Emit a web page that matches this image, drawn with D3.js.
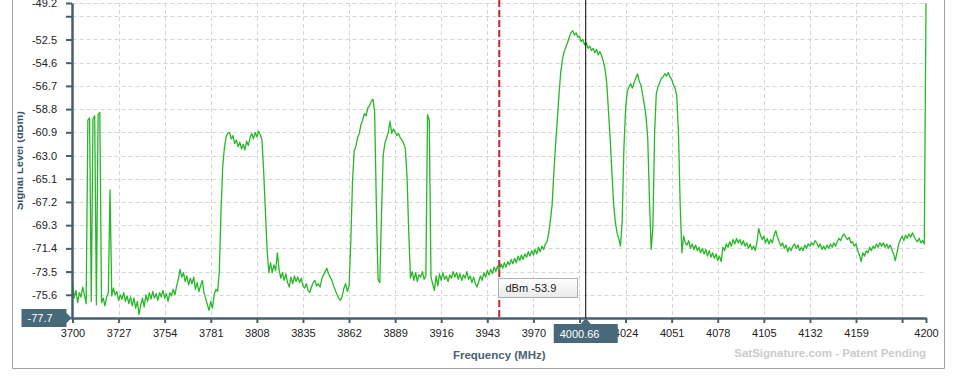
<!DOCTYPE html>
<html>
<head>
<meta charset="utf-8">
<script src="https://cdn.jsdelivr.net/npm/d3@7"></script>
<style>
    body { margin: 0; background: #fff; }
    svg text { font-family: "Liberation Sans", Arial, sans-serif; }
</style>
</head>
<body>
<div id="chart"></div>
<script>

// Spectrum trace, one sample per MHz from 3700 to 4200 (dBm)
const levels = [
    -74.4, -75.9, -75.2, -76.3, -75.4, -75.8, -74.9, -75.6, -76.4, -59.8, // 3700
    -59.6, -76.2, -59.7, -59.4, -76.5, -59.3, -59.1, -76.3, -75.9, -76.6, // 3710
    -75.8, -75.4, -66.1, -75.7, -75.0, -75.6, -75.3, -76.1, -75.6, -76.0, // 3720
    -75.4, -76.2, -75.7, -76.4, -75.8, -76.6, -75.9, -76.8, -76.2, -77.4, // 3730
    -76.5, -75.9, -76.7, -75.6, -76.2, -75.4, -76.0, -75.3, -75.9, -75.5, // 3740
    -76.1, -75.4, -75.8, -75.2, -75.9, -75.5, -76.2, -75.4, -75.7, -75.1, // 3750
    -75.6, -74.8, -74.2, -73.3, -74.0, -73.6, -74.4, -73.9, -74.7, -74.1, // 3760
    -74.6, -74.0, -75.1, -74.5, -75.3, -74.8, -74.3, -75.4, -75.9, -76.5, // 3770
    -77.0, -76.2, -76.8, -75.6, -75.1, -75.3, -73.5, -68.0, -64.0, -62.3, // 3780
    -61.3, -61.0, -60.9, -61.5, -61.2, -61.9, -61.6, -62.2, -61.8, -62.4, // 3790
    -62.0, -62.5, -61.7, -62.1, -61.4, -61.0, -61.5, -60.9, -61.3, -60.8, // 3800
    -61.1, -61.6, -64.5, -68.0, -71.5, -73.6, -72.7, -73.6, -72.9, -73.4, // 3810
    -71.8, -73.3, -74.1, -73.6, -74.3, -73.7, -74.5, -74.9, -74.0, -74.6, // 3820
    -73.9, -74.4, -74.0, -74.5, -74.1, -74.8, -75.0, -74.6, -75.2, -75.4, // 3830
    -74.9, -74.5, -74.3, -74.8, -74.6, -74.9, -74.2, -73.8, -73.5, -73.2, // 3840
    -73.7, -74.0, -74.3, -74.8, -75.2, -75.6, -75.9, -76.1, -75.7, -75.0, // 3850
    -74.6, -75.3, -74.8, -71.0, -65.5, -62.6, -62.2, -61.4, -61.0, -60.2, // 3860
    -59.8, -59.2, -59.4, -58.7, -58.5, -58.1, -57.9, -59.0, -67.5, -74.2, // 3870
    -74.5, -68.5, -63.0, -61.9, -61.4, -60.9, -59.9, -61.0, -60.6, -60.9, // 3880
    -61.2, -61.0, -61.4, -61.6, -61.9, -62.4, -65.0, -70.0, -74.1, -73.5, // 3890
    -74.3, -73.6, -74.4, -73.8, -74.0, -73.5, -74.2, -73.9, -59.3, -59.8, // 3900
    -74.0, -74.6, -75.2, -73.9, -74.8, -73.7, -74.3, -73.6, -74.2, -73.9, // 3910
    -74.4, -73.8, -74.1, -73.5, -74.0, -73.6, -74.2, -73.7, -74.3, -73.8, // 3920
    -74.1, -73.5, -74.2, -73.9, -74.5, -74.0, -74.6, -74.9, -74.4, -73.9, // 3930
    -74.3, -73.6, -74.0, -73.4, -73.8, -73.3, -73.7, -73.1, -73.5, -73.0, // 3940
    -73.4, -72.8, -73.2, -72.7, -73.1, -72.6, -72.9, -72.4, -72.8, -72.3, // 3950
    -72.7, -72.1, -72.5, -72.0, -72.4, -71.9, -72.2, -71.7, -72.1, -71.6, // 3960
    -72.0, -71.5, -71.9, -71.3, -71.7, -71.2, -71.5, -71.0, -70.8, -70.0, // 3970
    -68.8, -67.4, -64.5, -62.0, -59.8, -57.5, -55.5, -54.3, -53.6, -53.2, // 3980
    -52.8, -52.3, -51.9, -51.7, -52.1, -51.9, -52.3, -52.2, -52.7, -52.5, // 3990
    -53.0, -52.8, -53.3, -53.1, -53.5, -53.3, -53.7, -53.4, -53.9, -53.6, // 4000
    -54.0, -54.5, -55.2, -56.5, -59.0, -61.5, -64.5, -67.4, -69.0, -70.0, // 4010
    -70.5, -71.2, -69.0, -62.5, -58.8, -57.2, -56.8, -56.5, -56.9, -56.4, // 4020
    -56.0, -55.6, -56.3, -56.6, -57.5, -58.4, -59.5, -61.5, -67.0, -71.5, // 4030
    -69.5, -61.0, -57.4, -56.8, -56.4, -56.0, -55.9, -55.6, -55.8, -55.5, // 4040
    -55.9, -56.1, -56.6, -56.9, -57.6, -61.0, -67.5, -71.8, -70.3, -70.9, // 4050
    -71.1, -70.7, -71.4, -71.0, -71.5, -71.1, -71.6, -71.3, -71.8, -71.4, // 4060
    -71.9, -71.5, -72.1, -71.6, -72.2, -71.8, -72.3, -71.9, -72.5, -72.1, // 4070
    -72.6, -71.3, -71.6, -71.0, -71.3, -70.8, -71.2, -70.6, -71.0, -70.5, // 4080
    -70.9, -70.6, -71.1, -70.7, -71.2, -70.9, -71.4, -71.0, -71.5, -71.2, // 4090
    -71.6, -70.8, -69.6, -70.2, -70.6, -70.3, -70.9, -70.5, -71.0, -70.6, // 4100
    -70.9, -70.2, -69.8, -70.4, -70.8, -71.2, -70.9, -71.4, -71.1, -71.7, // 4110
    -71.3, -71.6, -71.2, -71.0, -71.4, -71.1, -71.6, -71.3, -71.6, -71.1, // 4120
    -71.4, -71.0, -71.2, -70.9, -71.1, -70.7, -70.9, -71.3, -71.0, -71.5, // 4130
    -71.2, -71.5, -71.1, -71.4, -71.0, -71.3, -70.9, -71.2, -70.8, -70.5, // 4140
    -70.7, -70.3, -70.1, -70.4, -70.6, -70.4, -70.9, -70.8, -71.2, -71.0, // 4150
    -71.6, -72.0, -72.6, -71.8, -72.1, -71.6, -71.8, -71.3, -71.6, -71.2, // 4160
    -71.4, -71.0, -71.3, -70.9, -71.2, -70.9, -71.3, -71.0, -71.4, -71.1, // 4170
    -71.5, -71.9, -72.5, -71.8, -71.0, -70.6, -70.3, -70.7, -70.2, -70.5, // 4180
    -70.1, -70.4, -70.0, -70.3, -70.6, -70.8, -70.5, -70.9, -70.7, -71.0, // 4190
    -49.2                                                                 // 4200
]
const freqs = d3.range(3700, 4201)

// Axis ticks
const xTicks = [3700, 3727, 3754, 3781, 3808, 3835, 3862, 3889, 3916, 3943,
                3970, 3997, 4024, 4051, 4078, 4105, 4132, 4159, 4186, 4200]
const yTicks = [-77.7, -75.6, -73.5, -71.4, -69.3, -67.2, -65.1, -63.0,
                -60.9, -58.8, -56.7, -54.6, -52.5, -50.4, -49.2]
// labels that sit under the readout boxes or collide with the end labels
const hiddenXLabels = [3997, 4186]
const hiddenYLabels = [-77.7, -50.4]

// Marker and cursor readouts
const markerFreq = 3950
const markerText = "dBm -53.9"
const cursorFreq = 4000.66
const cursorLevel = -77.7
const xTitle = "Frequency (MHz)"
const yTitle = "Signal Level (dBm)"
const watermark = "SatSignature.com - Patent Pending"

// Create SVG
let outerWidth = 957
let outerHeight = 378
let plot = {left: 72.5, right: 926, top: 3, bottom: 318}
const slate = "#44606e"
const boxFill = "#47697a"

const svg = d3.select("#chart")
    .append("svg")
    .attr("width", outerWidth)
    .attr("height", outerHeight)

// Outer frame
svg.append("path")
    .attr("d", "M12.5,-2V368.5H944.5V-2")
    .attr("fill", "none")
    .attr("stroke", "#a0a0a0")
    .attr("stroke-width", 1)

// Scales
const x = d3.scaleLinear()
    .domain([3700, 4200])
    .range([plot.left, plot.right])

const y = d3.scaleLinear()
    .domain([-77.7, -49.2])
    .range([plot.bottom, plot.top])

// Grid
svg.append("g")
    .selectAll("line")
    .data(yTicks)
    .join("line")
    .attr("x1", x(3700))
    .attr("x2", x(4200))
    .attr("y1", d => Math.round(y(d)) + 0.5)
    .attr("y2", d => Math.round(y(d)) + 0.5)
    .attr("stroke", "#d6d6d6")
    .attr("stroke-dasharray", "4,3")

svg.append("g")
    .selectAll("line")
    .data(xTicks.slice(1, -1))
    .join("line")
    .attr("x1", d => Math.round(x(d)) + 0.5)
    .attr("x2", d => Math.round(x(d)) + 0.5)
    .attr("y1", y(-49.2))
    .attr("y2", y(-77.7))
    .attr("stroke", "#d6d6d6")
    .attr("stroke-dasharray", "4,3")

// Clip for the trace
svg.append("clipPath")
    .attr("id", "plot-clip")
    .append("rect")
    .attr("x", plot.left)
    .attr("y", 0)
    .attr("width", plot.right - plot.left + 1)
    .attr("height", plot.bottom)

// Spectrum line
const line = d3.line()
    .x((d, i) => x(freqs[i]))
    .y(d => y(d))

svg.append("path")
    .datum(levels)
    .attr("clip-path", "url(#plot-clip)")
    .attr("d", line)
    .attr("fill", "none")
    .attr("stroke", "#27b827")
    .attr("stroke-width", 1.3)
    .attr("stroke-linejoin", "round")

// Axes
const xAxis = d3.axisBottom(x)
    .tickValues(xTicks)
    .tickSize(5)
    .tickSizeOuter(0)
    .tickPadding(6)
    .tickFormat(d => hiddenXLabels.includes(d) ? "" : d)

const yAxis = d3.axisLeft(y)
    .tickValues(yTicks)
    .tickSize(6)
    .tickSizeOuter(0)
    .tickPadding(9)
    .tickFormat(d => hiddenYLabels.includes(d) ? "" : d.toFixed(1))

const gx = svg.append("g")
    .attr("transform", `translate(0, ${plot.bottom})`)
    .call(xAxis)

const gy = svg.append("g")
    .attr("transform", `translate(${plot.left - 0.5}, 0)`)
    .call(yAxis)

for (const g of [gx, gy]) {
    g.select(".domain").attr("stroke", slate).attr("stroke-width", 2.5)
    g.selectAll(".tick line").attr("stroke", slate).attr("stroke-width", 2)
    g.selectAll(".tick text")
        .attr("fill", "#222")
        .style("font-size", "11px")
        .style("font-family", "'Liberation Sans', Arial, sans-serif")
}

// Axis titles
svg.append("text")
    .attr("x", (plot.left + plot.right) / 2)
    .attr("y", 359)
    .attr("text-anchor", "middle")
    .attr("fill", "#4a6272")
    .style("font-size", "11.5px")
    .style("font-weight", "bold")
    .text(xTitle)

svg.append("clipPath")
    .attr("id", "ytitle-clip")
    .append("rect")
    .attr("x", 17.5)
    .attr("y", 0)
    .attr("width", 20)
    .attr("height", outerHeight)

svg.append("g")
    .attr("clip-path", "url(#ytitle-clip)")
    .append("text")
    .attr("transform", `translate(23, ${(plot.top + plot.bottom) / 2}) rotate(-90)`)
    .attr("text-anchor", "middle")
    .attr("fill", "#3d5566")
    .style("font-size", "11px")
    .style("font-weight", "bold")
    .text(yTitle)

// Watermark
svg.append("text")
    .attr("x", plot.right)
    .attr("y", 357)
    .attr("text-anchor", "end")
    .attr("fill", "#cbcbcb")
    .style("font-size", "11.5px")
    .style("font-weight", "bold")
    .text(watermark)

// Marker line (red dashed)
const mx = x(markerFreq)
svg.append("line")
    .attr("x1", mx).attr("x2", mx)
    .attr("y1", 0).attr("y2", plot.bottom)
    .attr("stroke", "#c0282d")
    .attr("stroke-width", 2)
    .attr("stroke-dasharray", "7,3")

// Cursor line (black)
const cx = x(cursorFreq)
svg.append("line")
    .attr("x1", cx).attr("x2", cx)
    .attr("y1", 0).attr("y2", plot.bottom)
    .attr("stroke", "#000")
    .attr("stroke-width", 1)

// Marker tooltip
const tip = svg.append("g")
    .attr("transform", `translate(${Math.round(mx) - 0.5}, 278.5)`)

const grad = svg.append("defs").append("linearGradient")
    .attr("id", "tip-grad")
    .attr("x1", 0).attr("y1", 0).attr("x2", 0).attr("y2", 1)
grad.append("stop").attr("offset", "0%").attr("stop-color", "#ffffff")
grad.append("stop").attr("offset", "100%").attr("stop-color", "#e9e9e9")

tip.append("rect")
    .attr("width", 79)
    .attr("height", 19)
    .attr("fill", "url(#tip-grad)")
    .attr("stroke", "#b0b0b0")

tip.append("text")
    .attr("x", 7)
    .attr("y", 13.5)
    .attr("fill", "#222")
    .style("font-size", "11px")
    .text(markerText)

// Cursor readout on the x axis
const xr = svg.append("g")
    .attr("transform", `translate(${cx}, ${plot.bottom})`)

xr.append("path")
    .attr("d", "M-32,6H-5L0,0L5,6H32V25H-32Z")
    .attr("fill", boxFill)

xr.append("text")
    .attr("x", -26)
    .attr("y", 20)
    .attr("fill", "#fff")
    .style("font-size", "11px")
    .text(cursorFreq.toFixed(2))

// Cursor readout on the y axis
const yr = svg.append("g")
    .attr("transform", `translate(${plot.left - 1}, ${y(cursorLevel)})`)

yr.append("path")
    .attr("d", "M0,0L-5,-5V-9H-50V9H-5V5Z")
    .attr("fill", boxFill)

yr.append("text")
    .attr("x", -44)
    .attr("y", 4)
    .attr("fill", "#fff")
    .style("font-size", "11px")
    .text(cursorLevel.toFixed(1))

</script>
</body>
</html>
